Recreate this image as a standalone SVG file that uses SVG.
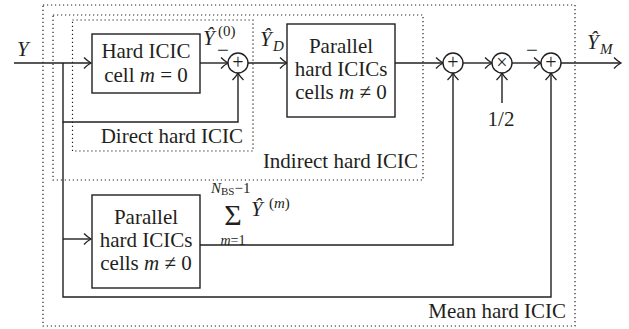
<svg xmlns="http://www.w3.org/2000/svg" width="629" height="329" viewBox="0 0 629 329" font-family="'Liberation Serif', 'Times New Roman', serif">
<defs>
<style>
text{font-family:"Liberation Serif","Times New Roman",serif;fill:#231f20}
.t{font-size:21px}
.s{font-size:15px}
.i{font-style:italic}
.box{fill:#fff;stroke:#231f20;stroke-width:1.4}
.dot{fill:none;stroke:#231f20;stroke-width:1.2;stroke-dasharray:1.2 2.8}
.ar{fill:none;stroke:#231f20;stroke-width:1.4;marker-end:url(#ah)}
.sym{font-size:20px;text-anchor:middle}
</style>
<marker id="ah" markerUnits="userSpaceOnUse" markerWidth="12" markerHeight="14" refX="10" refY="7" orient="auto" overflow="visible">
<path d="M3,1.5 Q7,5.5 10,7 Q7,8.5 3,12.5" fill="none" stroke="#231f20" stroke-width="1.3"/>
</marker>
</defs>

<g id="regions">
<rect id="mean-region" class="dot" x="43" y="5" width="532" height="321"/>
<rect id="indirect-region" class="dot" x="53" y="15" width="370" height="165"/>
<rect id="direct-region" class="dot" x="72.5" y="20" width="180.5" height="131"/>
<text class="t" x="243" y="143" text-anchor="end">Direct hard ICIC</text>
<text class="t" x="418" y="168" text-anchor="end">Indirect hard ICIC</text>
<text class="t" x="566" y="318" text-anchor="end">Mean hard ICIC</text>
</g>

<g id="connectors">
<path class="ar" d="M14,63 H91"/>
<path class="ar" d="M200,63 H228"/>
<path class="ar" d="M63,63 V122 H238 V73"/>
<path class="ar" d="M248,63 H287"/>
<path class="ar" d="M395,63 H443"/>
<path class="ar" d="M463,63 H492"/>
<path class="ar" d="M512,63 H541"/>
<path class="ar" d="M561,63 H621"/>
<path class="ar" d="M502,103 V73"/>
<path class="ar" d="M63,122 V297 H551 V73"/>
<path class="ar" d="M63,239 H91"/>
<path class="ar" d="M200,245 H453 V73"/>
</g>

<g id="labels">
<text class="t i" x="17" y="56">Y</text>
<text class="t i" x="203" y="45">Ŷ</text>
<text class="s" x="218" y="36">(0)</text>
<text class="t" x="223" y="57" text-anchor="middle">−</text>
<text class="t i" x="260" y="46">Ŷ</text>
<text class="s i" x="273" y="51">D</text>
<text class="t i" x="587" y="49">Ŷ</text>
<text class="s i" x="600" y="54">M</text>
<text class="t" x="532" y="57" text-anchor="middle">−</text>
<text class="t" x="501" y="126" text-anchor="middle">1/2</text>
</g>

<g id="sum-label">
<text class="s" x="211" y="193"><tspan class="i">N</tspan><tspan font-size="11" dy="2">BS</tspan><tspan dy="-2">−1</tspan></text>
<text x="233" y="225" text-anchor="middle" font-size="30">Σ</text>
<text x="233" y="245" text-anchor="middle" font-size="14"><tspan class="i">m</tspan>=1</text>
<text class="t i" x="251" y="216">Ŷ</text>
<text class="s" x="269" y="208">(<tspan class="i">m</tspan>)</text>
</g>

<g id="hard-icic-cell0">
<rect class="box" x="92" y="34" width="108" height="59"/>
<text class="t" x="146" y="58" text-anchor="middle">Hard ICIC</text>
<text class="t" x="146" y="82" text-anchor="middle">cell <tspan class="i">m</tspan> = 0</text>
</g>

<g id="parallel-top">
<rect class="box" x="287" y="24" width="108" height="93"/>
<text class="t" x="341" y="53" text-anchor="middle">Parallel</text>
<text class="t" x="341" y="76" text-anchor="middle">hard ICICs</text>
<text class="t" x="341" y="99" text-anchor="middle">cells <tspan class="i">m</tspan> ≠ 0</text>
</g>

<g id="parallel-bottom">
<rect class="box" x="92" y="195" width="108" height="93"/>
<text class="t" x="146" y="224" text-anchor="middle">Parallel</text>
<text class="t" x="146" y="247" text-anchor="middle">hard ICICs</text>
<text class="t" x="146" y="270" text-anchor="middle">cells <tspan class="i">m</tspan> ≠ 0</text>
</g>

<g id="sum1">
<circle class="box" cx="238" cy="63" r="10"/>
<text class="sym" x="238" y="69">+</text>
</g>
<g id="sum2">
<circle class="box" cx="453" cy="63" r="10"/>
<text class="sym" x="453" y="69">+</text>
</g>
<g id="mult">
<circle class="box" cx="502" cy="63" r="10"/>
<text class="sym" x="502" y="69">×</text>
</g>
<g id="sum3">
<circle class="box" cx="551" cy="63" r="10"/>
<text class="sym" x="551" y="69">+</text>
</g>
</svg>
